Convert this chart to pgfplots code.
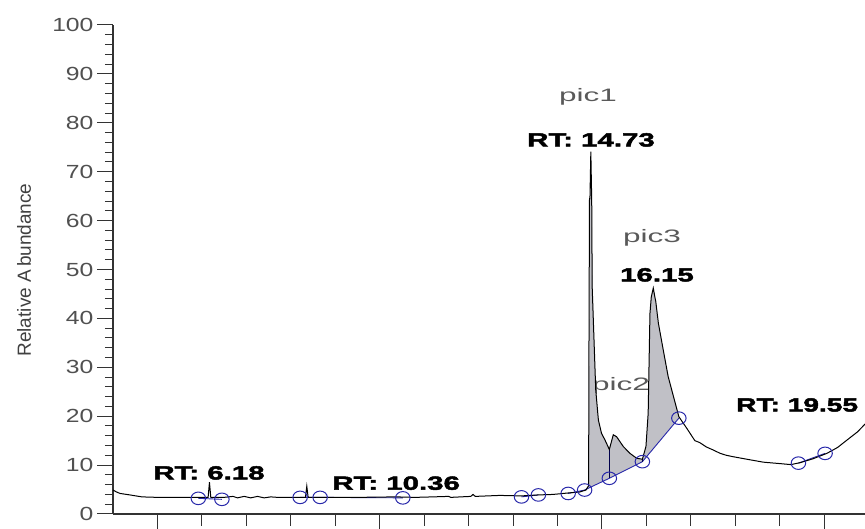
\documentclass[border=0pt]{standalone}
\usepackage{fontspec}
\usepackage{pgfplots}
\pgfplotsset{compat=1.18}
\setmainfont{Liberation Sans}
\newfontfamily\tickfont[FakeStretch=1.3]{Liberation Sans}
\newfontfamily\rtfont[FakeStretch=1.55,FakeBold=2.5]{Liberation Sans Bold}
\newfontfamily\rtfontb[FakeStretch=1.48,FakeBold=2.5]{Liberation Sans Bold}
\newfontfamily\picfont[FakeStretch=1.75]{Liberation Sans}
\definecolor{blueC}{RGB}{40,40,170}
\definecolor{fillC}{RGB}{192,192,198}
\definecolor{tickC}{RGB}{80,80,80}
\newcommand{\rtlab}[1]{{\rtfont\fontsize{19}{22}\selectfont #1}}
\newcommand{\piclab}[1]{{\picfont\fontsize{18}{21}\selectfont #1}}
\begin{document}
\begin{tikzpicture}
\useasboundingbox (-113pt,-15pt) rectangle (752pt,514pt);
\clip (-113pt,-15pt) rectangle (752pt,514pt);
\begin{axis}[
  width=752pt, height=489pt, scale only axis,
  xmin=4, xmax=20.918, ymin=0, ymax=100,
  axis x line=none, axis y line=left,
  axis line style={-, line width=1.1pt, black!80},
  ytick={0,10,...,100}, minor y tick num=4,
  tick align=outside, major tick length=16pt, minor tick length=8pt,
  tick style={line width=1pt, black!80},
  /pgf/number format/assume math mode=true,
  yticklabel style={font=\tickfont\fontsize{19}{22}\selectfont, text=tickC},
  clip=false,
]
% label pic2 (partly hidden by peak)
\node[anchor=west, text=black!65, inner sep=0pt] at (axis cs:14.776,26.2) {\piclab{pic2}};
% shaded peak areas
\addplot[fill=fillC, draw=none] coordinates {(14.61,4.9) (14.64,4.9) (14.70,5.8) (14.72,40) (14.73,64.5) (14.75,74.1) (14.77,64) (14.79,46.5) (14.86,25.4) (14.92,19.2) (14.99,16.5) (15.07,15.1) (15.166,13.2) (15.166,7.3)} -- cycle;
\addplot[fill=fillC, draw=none] coordinates {(15.166,7.3) (15.166,13.2) (15.255,16.2) (15.33,15.8) (15.48,13.8) (15.63,12.4) (15.78,11.4) (15.91,11.2) (15.91,10.7)} -- cycle;
\addplot[fill=fillC, draw=none] coordinates {(15.91,10.7) (15.91,11.2) (15.99,13.8) (16.04,20.6) (16.08,41) (16.11,44.4) (16.155,46.2) (16.19,44.4) (16.21,43.5) (16.27,39) (16.38,33.5) (16.49,28.1) (16.61,24) (16.73,19.9) (16.73,19.6)} -- cycle;
% baseline segments
\addplot[blueC, line width=0.9pt] coordinates {(5.92,3.2) (6.45,3.0)};
\addplot[blueC, line width=0.9pt] coordinates {(8.21,3.4) (8.66,3.4) (10.52,3.3)};
\addplot[blueC, line width=0.9pt] coordinates {(13.19,3.5) (13.57,3.9)};
\addplot[blueC, line width=0.9pt] coordinates {(14.24,4.2) (14.61,4.9) (15.166,7.3) (15.91,10.7) (16.73,19.6)};
\addplot[blueC, line width=0.9pt] coordinates {(19.42,10.4) (20.02,12.4)};
% dividers
\addplot[black!70!blue, line width=1pt] coordinates {(15.166,13.2) (15.166,7.3)};
\addplot[black!70!blue, line width=1pt] coordinates {(15.91,11.2) (15.91,10.7)};
% trace
\addplot[black, line width=1pt] table {
4.00 4.9
4.08 4.5
4.16 4.2
4.38 3.9
4.65 3.5
5.0 3.4
5.5 3.4
5.9 3.4
6.14 3.4
6.17 6.5
6.20 3.4
6.5 3.4
6.7 3.6
6.8 3.3
6.95 3.6
7.1 3.3
7.25 3.6
7.4 3.3
7.55 3.5
7.7 3.4
8.0 3.4
8.33 3.4
8.36 5.7
8.39 3.4
8.7 3.4
9.5 3.4
10.36 3.5
10.8 3.4
11.2 3.5
11.55 3.6
11.6 3.4
12.05 3.6
12.1 4.0
12.15 3.6
12.7 3.8
13.19 3.7
13.57 3.9
13.9 4.0
14.24 4.3
14.5 4.5
14.64 4.9
14.70 5.8
14.71 40
14.72 64.5
14.73 64.5
14.75 74.1
14.77 64
14.78 46.5
14.86 25.4
14.92 19.2
14.99 16.5
15.07 15.1
15.166 13.2
15.255 16.2
15.33 15.8
15.48 13.8
15.63 12.4
15.78 11.4
15.91 11.2
15.99 13.8
16.04 20.6
16.08 41
16.11 44.4
16.155 46.2
16.19 44.4
16.21 43.5
16.27 39
16.38 33.5
16.49 28.1
16.61 24
16.73 19.9
16.91 17.5
17.09 15.0
17.2 14.6
17.35 13.7
17.5 13.1
17.66 12.4
17.8 12.0
17.96 11.7
18.26 11.2
18.63 10.6
19.01 10.3
19.25 10.1
19.46 10.5
19.75 11.3
20.06 12.4
20.3 13.6
20.51 15.1
20.75 16.8
20.92 18.4
};
% baseline anchor circles
\addplot[only marks, mark=o, mark size=6.3pt, mark options={xscale=1.15, draw=blueC, line width=1pt}] coordinates {
(5.92,3.2) (6.45,3.0) (8.21,3.4) (8.66,3.4) (10.52,3.3) (13.19,3.5) (13.57,3.9) (14.24,4.2) (14.61,4.9) (15.166,7.3) (15.91,10.7) (16.73,19.6) (19.42,10.4) (20.02,12.4)};
% labels
\node[text=black!65] at (axis cs:14.686,85.3) {\piclab{pic1}};
\node[text=black!65] at (axis cs:16.126,56.4) {\piclab{pic3}};
\node at (axis cs:14.754,76.5) {\rtlab{RT: 14.73}};
\node at (axis cs:16.238,48.9) {\rtlab{16.15}};
\node at (axis cs:6.16,8.4) {\rtlab{RT: 6.18}};
\node at (axis cs:10.37,6.3) {\rtlab{RT: 10.36}};
\node[anchor=west, inner sep=0pt] at (axis cs:18.016,22.3) {{\rtfontb\fontsize{19}{22}\selectfont RT: 19.55}};
\end{axis}
\begin{axis}[
  width=752pt, height=489pt, scale only axis,
  xmin=4, xmax=20.918, ymin=0, ymax=100,
  axis y line=none, axis x line=bottom,
  axis line style={-, line width=1.1pt, black!80},
  xtick={5,10,15,20}, minor x tick num=4, xticklabels={},
  tick align=outside, major tick length=20pt, minor tick length=12pt,
  tick style={line width=1pt, black!80},
]
\end{axis}
\node[rotate=90, text=black!75] at (-89pt,244pt) {\fontsize{19}{22}\selectfont Relative A\kern3pt bundance};
\end{tikzpicture}
\end{document}
